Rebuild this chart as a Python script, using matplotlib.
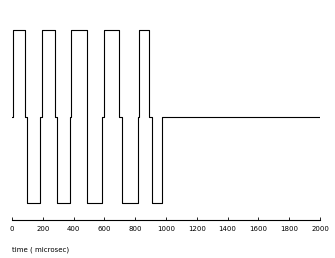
import matplotlib
matplotlib.use("Agg")
import matplotlib.pyplot as plt

# transition times (microsec) and the level held from each time on
times = [0, 9, 84, 95, 182, 195, 279, 294, 377, 385, 485, 489,
         582, 600, 695, 716, 816, 826, 890, 907, 972, 2000]
levels = [0, 1, 0, -1, 0, 1, 0, -1, 0, 1, 0, -1,
          0, 1, 0, -1, 0, 1, 0, -1, 0, 0]

xticks = [0, 200, 400, 600, 800, 1000, 1200, 1400, 1600, 1800, 2000]

fig = plt.figure(figsize=(3.35, 2.58), dpi=100)
ax = fig.add_axes([12 / 335, (258 - 219.5) / 258, 308 / 335, (219.5 - 20) / 258])

ax.plot(times, levels, drawstyle="steps-post", color="black", linewidth=0.8)

ax.set_xlim(0, 2000)
ax.set_ylim(-1.19, 1.12)
ax.set_xticks(xticks)
ax.set_xticklabels([str(t) for t in xticks], fontsize=5)
ax.set_yticks([])
for side in ("top", "left", "right"):
    ax.spines[side].set_visible(False)
ax.spines["bottom"].set_linewidth(0.8)
ax.tick_params(axis="x", direction="in", length=2, width=0.6, pad=5)
ax.set_xlabel("time ( microsec)", fontsize=5, loc="left", labelpad=10)

fig.savefig("out.png", dpi=100)
